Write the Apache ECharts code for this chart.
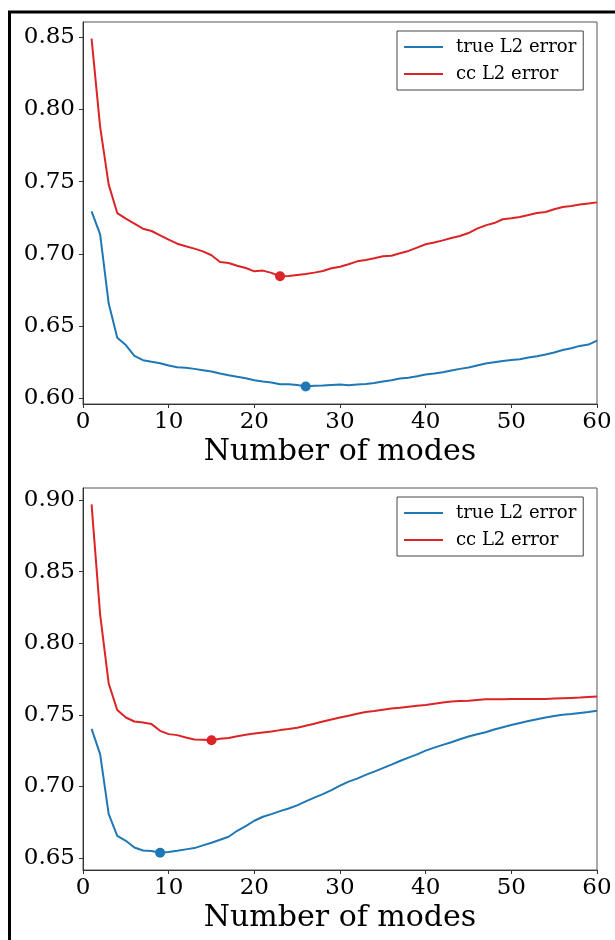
<!DOCTYPE html>
<html>
<head>
<meta charset="utf-8">
<script src="https://cdn.jsdelivr.net/npm/echarts@6/dist/echarts.min.js"></script>
<style>
  html, body { margin: 0; padding: 0; background: #fff; }
  #main { width: 615px; height: 940px; }
</style>
</head>
<body>
<div id="main"></div>
<script>
var modes = [1, 2, 3, 4, 5, 6, 7, 8, 9, 10, 11, 12, 13, 14, 15, 16, 17, 18, 19, 20,
  21, 22, 23, 24, 25, 26, 27, 28, 29, 30, 31, 32, 33, 34, 35, 36, 37, 38, 39, 40,
  41, 42, 43, 44, 45, 46, 47, 48, 49, 50, 51, 52, 53, 54, 55, 56, 57, 58, 59, 60];

// top panel
var trueTop = [0.7295, 0.7136, 0.6657, 0.642, 0.637, 0.6295, 0.6265, 0.6254, 0.6244, 0.6228,
  0.6217, 0.6212, 0.6205, 0.6196, 0.6187, 0.6173, 0.6161, 0.615, 0.614, 0.6127,
  0.6118, 0.6111, 0.6099, 0.6099, 0.6094, 0.6083, 0.6088, 0.609, 0.6094, 0.6097,
  0.6092, 0.6097, 0.6101, 0.6108, 0.6118, 0.6127, 0.6138, 0.6143, 0.6154, 0.6166,
  0.6173, 0.6182, 0.6194, 0.6205, 0.6214, 0.6228, 0.6242, 0.6251, 0.626, 0.6267,
  0.6272, 0.6283, 0.6293, 0.6304, 0.6318, 0.6336, 0.6348, 0.6364, 0.6373, 0.640];
var ccTop = [0.849, 0.788, 0.748, 0.7283, 0.7244, 0.721, 0.7175, 0.7159, 0.7129, 0.7099,
  0.7071, 0.7053, 0.7037, 0.7018, 0.6991, 0.6945, 0.6938, 0.6919, 0.6903, 0.688,
  0.6885, 0.6869, 0.6846, 0.6848, 0.6855, 0.6862, 0.6871, 0.6882, 0.6901, 0.6912,
  0.6929, 0.6949, 0.6959, 0.697, 0.6984, 0.6988, 0.7005, 0.7021, 0.7044, 0.7067,
  0.708, 0.7094, 0.7111, 0.7124, 0.7145, 0.7175, 0.7198, 0.7214, 0.724, 0.7247,
  0.7256, 0.727, 0.7283, 0.729, 0.7309, 0.7325, 0.7332, 0.7343, 0.735, 0.7357];

// bottom panel
var trueBottom = [0.7402, 0.7225, 0.6806, 0.6655, 0.662, 0.6573, 0.6552, 0.6548, 0.6536, 0.6541,
  0.655, 0.656, 0.6569, 0.6588, 0.6606, 0.6627, 0.6648, 0.669, 0.6723, 0.676,
  0.6788, 0.6806, 0.6827, 0.6846, 0.6867, 0.6895, 0.6921, 0.6946, 0.6974, 0.7005,
  0.7033, 0.7054, 0.708, 0.7103, 0.7128, 0.7152, 0.7177, 0.7201, 0.7224, 0.725,
  0.7271, 0.729, 0.7308, 0.7329, 0.7348, 0.7364, 0.7378, 0.7397, 0.7413, 0.7429,
  0.7443, 0.7457, 0.7469, 0.7481, 0.7492, 0.75, 0.7505, 0.7512, 0.7519, 0.7528];
var ccBottom = [0.897, 0.820, 0.7719, 0.7533, 0.7481, 0.7453, 0.7446, 0.7435, 0.7388, 0.7365,
  0.7358, 0.7341, 0.7327, 0.7325, 0.7322, 0.7332, 0.7338, 0.735, 0.736, 0.7369,
  0.7376, 0.7383, 0.7393, 0.74, 0.7409, 0.7423, 0.7437, 0.7453, 0.7467, 0.7481,
  0.7493, 0.7507, 0.7519, 0.7526, 0.7535, 0.7544, 0.7549, 0.7556, 0.7563, 0.7568,
  0.7577, 0.7586, 0.7593, 0.7596, 0.7598, 0.7603, 0.7608, 0.7608, 0.7608, 0.761,
  0.761, 0.7611, 0.7611, 0.7611, 0.7614, 0.7616, 0.7618, 0.762, 0.7624, 0.7628];

var xTicks = [0, 10, 20, 30, 40, 50, 60];
var yTicksTop = [0.60, 0.65, 0.70, 0.75, 0.80, 0.85];
var yTicksBottom = [0.65, 0.70, 0.75, 0.80, 0.85, 0.90];
var seriesNames = ['true L2 error', 'cc L2 error'];

var BLUE = '#1f77b4', RED = '#dc2426';
var FONT = '"DejaVu Serif", serif';

function pairs(ys) {
  return modes.map(function (m, i) { return [m, ys[i]]; });
}

function xAxis(idx) {
  return {
    gridIndex: idx, type: 'value', min: 0, max: 60, interval: 10,
    name: 'Number of modes', nameLocation: 'middle', nameGap: 33,
    nameTextStyle: { fontFamily: FONT, fontSize: 30, color: '#000' },
    axisLine: { lineStyle: { color: '#333', width: 1 } },
    axisTick: { length: 4, lineStyle: { color: '#333' }, customValues: xTicks },
    axisLabel: { fontFamily: FONT, fontSize: 23, color: '#000', margin: 7, customValues: xTicks },
    splitLine: { show: false }
  };
}

function yAxis(idx, min, max, ticks) {
  return {
    gridIndex: idx, type: 'value', min: min, max: max,
    axisLine: { show: true, lineStyle: { color: '#333', width: 1 } },
    axisTick: { show: true, length: 4, lineStyle: { color: '#333' }, customValues: ticks },
    axisLabel: {
      fontFamily: FONT, fontSize: 23, color: '#000', margin: 8, customValues: ticks,
      formatter: function (v) { return v.toFixed(2); }
    },
    splitLine: { show: false }
  };
}

function line(name, color, idx, ys) {
  return {
    name: name, type: 'line', xAxisIndex: idx, yAxisIndex: idx,
    data: pairs(ys), showSymbol: false, color: color,
    lineStyle: { width: 2, color: color },
    markPoint: {
      symbol: 'circle', symbolSize: 10, itemStyle: { color: color },
      label: { show: false }, data: [{ type: 'min', valueDim: 'y' }]
    }
  };
}

function legend(top) {
  return {
    data: seriesNames, orient: 'vertical', left: 397, top: top,
    icon: 'rect', itemWidth: 39, itemHeight: 2, itemGap: 7,
    padding: [6, 7, 6, 7],
    borderColor: '#444', borderWidth: 1, borderRadius: 0,
    backgroundColor: '#fff',
    textStyle: { fontFamily: FONT, fontSize: 18, color: '#000', lineHeight: 20, padding: [0, 0, 0, 8] }
  };
}

var chart = echarts.init(document.getElementById('main'));
chart.setOption({
  animation: false,
  backgroundColor: '#fff',
  graphic: [{
    type: 'rect', silent: true,
    shape: { x: 9.5, y: 12, width: 700, height: 1000 },
    style: { fill: 'none', stroke: '#000', lineWidth: 3 }
  }],
  legend: [legend(31), legend(497)],
  grid: [
    { left: 83, right: 18, top: 22, height: 382, show: true, borderColor: '#555', borderWidth: 1 },
    { left: 83, right: 18, top: 488, height: 382, show: true, borderColor: '#555', borderWidth: 1 }
  ],
  xAxis: [xAxis(0), xAxis(1)],
  yAxis: [yAxis(0, 0.5962, 0.8605, yTicksTop), yAxis(1, 0.6416, 0.9084, yTicksBottom)],
  series: [
    line(seriesNames[0], BLUE, 0, trueTop),
    line(seriesNames[1], RED, 0, ccTop),
    line(seriesNames[0], BLUE, 1, trueBottom),
    line(seriesNames[1], RED, 1, ccBottom)
  ]
});
</script>
</body>
</html>
